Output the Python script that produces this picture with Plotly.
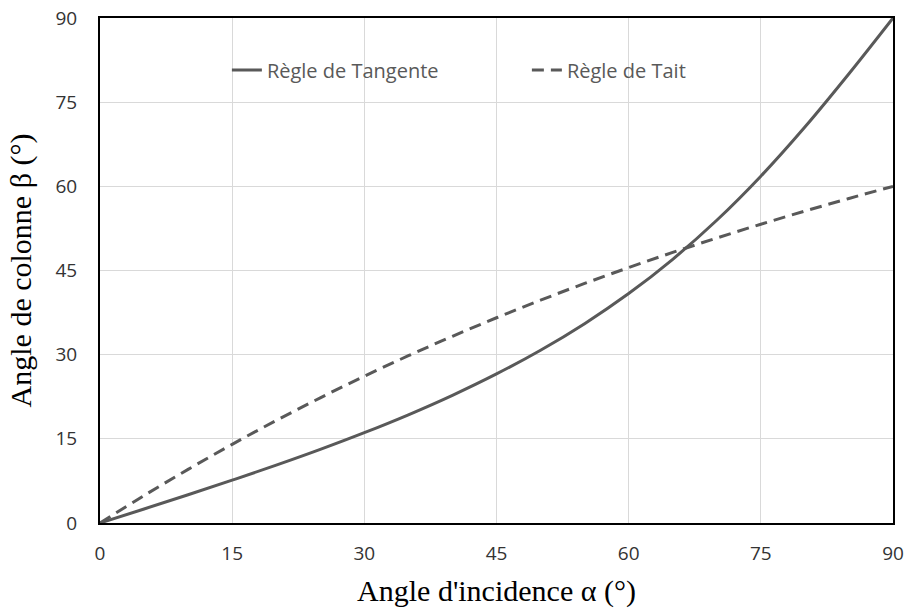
import plotly.graph_objects as go

alpha = [0, 5, 10, 15, 20, 25, 30, 35, 40, 45, 50, 55, 60, 65, 70, 75, 80, 85, 90]
beta_tangente = [0, 2.50, 5.04, 7.63, 10.31, 13.12, 16.10, 19.29, 22.76, 26.57,
                 30.79, 35.53, 40.89, 47.00, 53.95, 61.81, 70.57, 80.07, 90]
beta_tait = [0, 4.89, 9.56, 14.02, 18.27, 22.31, 26.16, 29.81, 33.28, 36.58,
             39.71, 42.69, 45.52, 48.22, 50.79, 53.25, 55.59, 57.84, 60]
ticks = [0, 15, 30, 45, 60, 75, 90]

line_color = "#595959"
fig = go.Figure()
fig.add_trace(go.Scatter(x=alpha, y=beta_tangente, mode="lines", name="Règle de Tangente",
                         line=dict(color=line_color, width=3, shape="spline")))
fig.add_trace(go.Scatter(x=alpha, y=beta_tait, mode="lines", name="Règle de Tait",
                         line=dict(color=line_color, width=3, dash="12px,7px", shape="spline")))

tick_font = dict(family="Open Sans, Liberation Sans, sans-serif", size=19, color="#333333")
title_font = dict(family="Liberation Serif, Times New Roman, serif", size=30, color="black")
axis_common = dict(range=[0, 90], tickvals=ticks, showgrid=True, gridcolor="#d9d9d9", gridwidth=1,
                   showline=True, linecolor="black", linewidth=2, mirror=True, zeroline=False,
                   ticks="", tickfont=tick_font, title_font=title_font, automargin=False)
fig.update_layout(
    width=907, height=609,
    margin=dict(l=100, r=14, t=18, b=86),
    plot_bgcolor="white", paper_bgcolor="white",
    xaxis=dict(**axis_common, title_text="Angle d'incidence α (°)", ticklabelstandoff=12),
    yaxis=dict(**axis_common, title_text="Angle de colonne β (°)", ticklabelstandoff=17),
    legend=dict(orientation="h", x=0.16, y=0.897, xanchor="left", yanchor="middle",
                bgcolor="rgba(255,255,255,0)",
                font=dict(family="Open Sans, Liberation Sans, sans-serif", size=20, color="#595959"),
                entrywidth=255, entrywidthmode="pixels"),
    showlegend=True,
)
fig.write_html("out.html", config={"displayModeBar": False},
               post_script="document.body.style.margin='0';")
